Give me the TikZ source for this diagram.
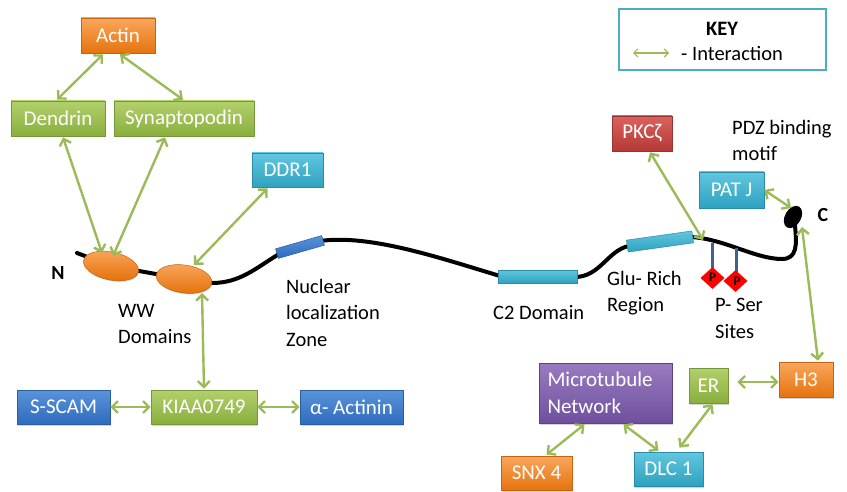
\documentclass[tikz,border=0pt]{standalone}
\usepackage{fontspec}
\setmainfont{Carlito}
\usetikzlibrary{arrows.meta,shadows,calc,shapes.geometric}

\definecolor{grnA}{HTML}{B2D06C}
\definecolor{grnB}{HTML}{8AAE3E}
\definecolor{grnD}{HTML}{76963A}
\definecolor{orA}{HTML}{FAA65C}
\definecolor{orB}{HTML}{E5740E}
\definecolor{orD}{HTML}{C46310}
\definecolor{cyA}{HTML}{62C6DF}
\definecolor{cyB}{HTML}{2EA2BF}
\definecolor{cyD}{HTML}{2A8BA5}
\definecolor{blA}{HTML}{5A93DA}
\definecolor{blB}{HTML}{2F6CBE}
\definecolor{blD}{HTML}{2A5E9E}
\definecolor{rdA}{HTML}{DA625E}
\definecolor{rdB}{HTML}{B53936}
\definecolor{rdD}{HTML}{993230}
\definecolor{puA}{HTML}{987BC0}
\definecolor{puB}{HTML}{70509E}
\definecolor{puD}{HTML}{5E4285}
\definecolor{lnk}{HTML}{9BBB59}
\definecolor{keyframe}{HTML}{4BACC6}
\definecolor{stem}{HTML}{41628F}

\tikzset{
  box/.style={rectangle, text=white, font=\fontsize{21}{27}\selectfont,
    inner sep=0pt, minimum height=35pt, line width=0.6pt,
    drop shadow={opacity=0.35, shadow xshift=1pt, shadow yshift=-1.5pt}},
  greenbox/.style={box, top color=grnA, bottom color=grnB, draw=grnD},
  orangebox/.style={box, top color=orA, bottom color=orB, draw=orD},
  cyanbox/.style={box, top color=cyA, bottom color=cyB, draw=cyD},
  bluebox/.style={box, top color=blA, bottom color=blB, draw=blD},
  redbox/.style={box, top color=rdA, bottom color=rdB, draw=rdD},
  purplebox/.style={box, top color=puA, bottom color=puB, draw=puD},
  interaction/.style={draw=lnk, line width=2.4pt,
    {Straight Barb[length=6pt,width=12pt]}-{Straight Barb[length=6pt,width=12pt]}},
  lbl/.style={font=\fontsize{20.5}{26.5}\selectfont, align=left, inner sep=0pt},
  segbox/.style={rectangle, inner sep=0pt, top color=cyA, bottom color=cyB, draw=cyD, line width=0.5pt},
  wwdomain/.style={ellipse, inner sep=0pt, minimum width=56pt, minimum height=28pt,
    top color=orA, bottom color=orB, draw=orD, line width=0.5pt,
    drop shadow={opacity=0.3, shadow xshift=0.5pt, shadow yshift=-1pt}},
  psite/.style={diamond, fill=red, inner sep=0pt, minimum width=24pt, minimum height=22pt,
    font=\bfseries\fontsize{13}{13}\selectfont}
}

\begin{document}
\begin{tikzpicture}[x=1pt, y=-1pt]
\useasboundingbox (0,0) rectangle (847,492);

% ---- key ----
\draw[keyframe, line width=2.5pt, fill=white] (619,9) rectangle (826,70);
\node[lbl, font=\bfseries\fontsize{20.5}{24}\selectfont] (keytitle) at (722,29) {KEY};
\coordinate (keyL) at (633,53);
\coordinate (keyR) at (669,53);
\draw[draw=lnk, line width=1.2pt,
  {Straight Barb[length=4pt,width=8pt]}-{Straight Barb[length=4pt,width=8pt]}] (keyL) -- (keyR);
\node[lbl, anchor=west] (keytext) at (681,53) {- Interaction};

% ---- protein backbone ----
\draw[line width=4pt, line cap=round, line join=round]
  (77,253) -- (111,266) -- (184,279) -- (212,283)
  .. controls (240,283) and (256,268) .. (279,254)
  -- (320,241)
  .. controls (370,234) and (440,258) .. (500,276)
  -- (575,277)
  .. controls (600,277) and (608,250) .. (629,246)
  -- (691,237)
  .. controls (725,239) and (755,259) .. (782,259)
  .. controls (797,259) and (797,245) .. (795,226);

% phospho-serine stems and sites
\draw[stem, line width=3pt] (712,243) -- (712,268);
\draw[stem, line width=3pt] (736,248) -- (736,272);
\node[psite] (p1) at (712.5,278) {\raisebox{2pt}{P}};
\node[psite] (p2) at (735.5,281) {\raisebox{0pt}{\hspace{3pt}P}};

% domains on the backbone
\node[rectangle, inner sep=0pt, minimum width=48pt, minimum height=10pt, rotate=16,
  top color=blA, bottom color=blB, draw=blD, line width=0.5pt] (nls) at (300,247) {};
\node[segbox, minimum width=79pt, minimum height=13pt] (c2) at (537.5,276.5) {};
\node[segbox, minimum width=66pt, minimum height=12pt, rotate=8] (glu) at (660,241.5) {};
\node[wwdomain, rotate=-12] (ww1) at (111,266) {};
\node[wwdomain, rotate=-8] (ww2) at (184,279) {};
\node[ellipse, fill=black, inner sep=0pt, minimum width=24pt, minimum height=16pt, rotate=60] (cterm) at (793,217) {};

% backbone labels
\node[lbl, font=\bfseries\fontsize{20}{24}\selectfont] (nlab) at (58,273) {N};
\node[lbl, font=\bfseries\fontsize{20}{24}\selectfont] (clab) at (823,215) {C};
\node[lbl, anchor=north west] (wwlab) at (118,304) {WW\\Domains};
\node[lbl, anchor=north west] (nlslab) at (286,279) {Nuclear\\localization\\Zone};
\node[lbl, anchor=base west] (c2lab) at (493,319) {C2 Domain};
\node[lbl, anchor=north west] (glulab) at (607,271) {Glu- Rich\\Region};
\node[lbl, anchor=north west] (serlab) at (715,298) {P- Ser\\Sites};
\node[lbl, anchor=north west] (pdzlab) at (732,120) {PDZ binding\\motif};

% ---- interaction partners ----
\node[orangebox, minimum width=74pt] (actin) at (118,35.5) {Actin};
\node[greenbox, minimum width=94pt] (dendrin) at (58,118.5) {Dendrin};
\node[greenbox, minimum width=140pt] (synapto) at (184,118.5) {Synaptopodin};
\node[cyanbox, minimum width=71pt, minimum height=34pt] (ddr1) at (287.5,170) {DDR1};
\node[redbox, minimum width=60pt] (pkc) at (642,133.5) {PKCζ};
\node[cyanbox, minimum width=65pt, minimum height=36pt] (patj) at (731.5,190) {PAT J};
\node[bluebox, minimum width=93pt, minimum height=34pt] (sscam) at (63.5,407) {S-SCAM};
\node[greenbox, minimum width=106pt, minimum height=34pt] (kiaa) at (204,407) {KIAA0749};
\node[bluebox, minimum width=103pt, minimum height=34pt] (actinin) at (351.5,407) {α- Actinin};
\node[purplebox, minimum width=133pt, minimum height=60pt, text width=116pt, align=left] (micro) at (605.5,393) {Microtubule\\Network};
\node[greenbox, minimum width=39pt] (er) at (708.5,385.5) {ER};
\node[orangebox, minimum width=54pt] (h3) at (806,379.5) {H3};
\node[orangebox, minimum width=71pt, minimum height=34pt] (snx4) at (536.5,473) {SNX 4};
\node[cyanbox, minimum width=69pt, minimum height=34pt] (dlc1) at (668.5,469) {DLC 1};

% contact points on the backbone
\coordinate (wwA) at (102,253);
\coordinate (wwB) at (113,256);
\coordinate (wwC) at (194,265);
\coordinate (wwD) at (202,293);
\coordinate (gluEnd) at (703,240);
\coordinate (cA) at (791,208);
\coordinate (cB) at (802,227);

% ---- interactions ----
\draw[interaction] ($(actin.south)+(-15,1)$) -- ($(dendrin.north)+(-1,-1)$);
\draw[interaction] ($(actin.south)+(2,1)$) -- ($(synapto.north)+(-1,-1)$);
\draw[interaction] ($(dendrin.south)+(5,1)$) -- (wwA);
\draw[interaction] ($(synapto.south)+(-19,1)$) -- (wwB);
\draw[interaction] ($(ddr1.south)+(-20,1)$) -- (wwC);
\draw[interaction] ($(kiaa.north)+(0,-1)$) -- (wwD);
\draw[interaction] (sscam.east) -- (kiaa.west);
\draw[interaction] (kiaa.east) -- (actinin.west);
\draw[interaction] ($(pkc.south)+(8,1)$) -- (gluEnd);
\draw[interaction] (patj.east) -- (cA);
\draw[interaction] ($(h3.north)+(12,-1)$) -- (cB);
\draw[interaction] ($(er.east)+(9,-3.5)$) -- ($(h3.west)+(0,2.5)$);
\draw[interaction] ($(er.south)+(4,1)$) -- ($(dlc1.north)+(11,-4)$);
\draw[interaction] ($(micro.south)+(-21,1)$) -- ($(snx4.north)+(10,-1)$);
\draw[interaction] ($(micro.south)+(18,1)$) -- ($(dlc1.north)+(-10,-1)$);
\end{tikzpicture}
\end{document}
